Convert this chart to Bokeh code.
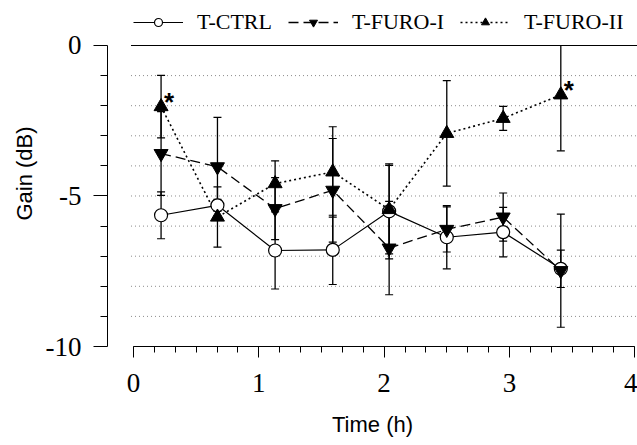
import numpy as np
from bokeh.plotting import figure
from bokeh.models import (ColumnDataSource, FixedTicker, LinearAxis, Legend, LegendItem, Range1d)
from bokeh.core.properties import value
from bokeh.embed import file_html
from bokeh.resources import INLINE

# ---- data ----
time_h = [0.22, 0.67, 1.13, 1.59, 2.04, 2.50, 2.95, 3.41]
ctrl_mean = [-5.64, -5.31, -6.81, -6.79, -5.51, -6.37, -6.20, -7.42]
ctrl_err = [0.78, 0.20, 1.28, 1.15, 1.58, 1.05, 0.82, 0.62]
furo1_mean = [-3.59, -4.03, -5.42, -4.81, -6.73, -6.11, -5.70, -7.48]
furo1_err = [1.39, 1.64, 1.03, 1.72, 1.55, 0.75, 0.80, 1.88]
furo2_mean = [-2.03, -5.70, -4.59, -4.20, -5.45, -2.92, -2.42, -1.64]
furo2_err = [1.04, 1.00, 0.76, 1.50, 1.47, 1.75, 0.40, 1.86]
series_names = ["T-CTRL", "T-FURO-I", "T-FURO-II"]
signif_index = [0, 7]          # FURO-II points marked with *
y_major = [0, -5, -10]
y_major_labels = {0: "0", -5: "-5", -10: "-10"}
y_minor = [-1, -2, -3, -4, -6, -7, -8, -9]
x_major = [0, 1, 2, 3, 4]
x_minor_per_h = 6
grid_levels = [-1, -2, -3, -4, -5, -6, -7, -8, -9]

SERIF = "Liberation Serif"
SANS = "Liberation Sans"

W, H = 637, 445
x_start, x_end = -0.2075, 4.022
y_low, y_high = -10, 1.495   # extra room above 0 dB holds the legend

p = figure(width=W, height=H, output_backend="svg", toolbar_location=None,
           x_range=Range1d(x_start, x_end), y_range=Range1d(y_low, y_high),
           x_axis_type=None, y_axis_type=None,
           min_border_left=107, min_border_right=0, min_border_top=0, min_border_bottom=99)
p.outline_line_color = None
p.background_fill_color = "white"
p.border_fill_color = "white"
p.xgrid.visible = False
p.ygrid.visible = False

# dotted horizontal grid
n = len(grid_levels)
p.segment(x0=[-0.02] * n, y0=grid_levels, x1=[x_end] * n, y1=grid_levels,
          line_color="#8a8a8a", line_width=1, line_dash="1 3")
# solid reference line at 0 dB
p.segment(x0=[-0.02], y0=[0], x1=[x_end], y1=[0], line_color="black", line_width=1.1)

# y axis (left), spanning -10..0
yax = LinearAxis(ticker=FixedTicker(ticks=y_major, minor_ticks=y_minor), bounds=(-10, 0))
yax.major_label_overrides = y_major_labels
yax.axis_line_color = "black"
yax.major_tick_line_color = "black"
yax.minor_tick_line_color = "black"
yax.major_tick_out = 14
yax.major_tick_in = 0
yax.minor_tick_out = 7
yax.minor_tick_in = 0
yax.major_label_text_font = SERIF
yax.major_label_text_font_size = "27px"
yax.major_label_text_color = "black"
yax.major_label_standoff = 12
yax.axis_label = "Gain (dB)"
yax.axis_label_text_font = SANS
yax.axis_label_text_font_size = "22px"
yax.axis_label_text_font_style = "normal"
yax.axis_label_text_color = "black"
yax.axis_label_standoff = 6
p.add_layout(yax, "left")

# x axis (below), only spanning 0..4
xmin = [i / x_minor_per_h for i in range(0, 4 * x_minor_per_h + 1)]
xax = LinearAxis(ticker=FixedTicker(ticks=x_major, minor_ticks=xmin), bounds=(0, 4))
xax.axis_line_color = "black"
xax.major_tick_line_color = "black"
xax.minor_tick_line_color = "black"
xax.major_tick_out = 11
xax.major_tick_in = 0
xax.minor_tick_out = 6
xax.minor_tick_in = 0
xax.major_label_text_font = SERIF
xax.major_label_text_font_size = "27px"
xax.major_label_text_color = "black"
xax.major_label_standoff = 16
xax.axis_label = "Time (h)"
xax.axis_label_text_font = SANS
xax.axis_label_text_font_size = "22px"
xax.axis_label_text_font_style = "normal"
xax.axis_label_text_color = "black"
xax.axis_label_standoff = 17
p.add_layout(xax, "below")

means = [ctrl_mean, furo1_mean, furo2_mean]
errs = [ctrl_err, furo1_err, furo2_err]

# error bars (clipped at the 0 dB top of the axis)
for m, e in zip(means, errs):
    lo = [a - b for a, b in zip(m, e)]
    hi = [min(a + b, 0) for a, b in zip(m, e)]
    cap = [h for h, a, b in zip(hi, m, e) if a + b <= 0]
    capx = [t for t, a, b in zip(time_h, m, e) if a + b <= 0]
    src = ColumnDataSource(dict(x=time_h, lo=lo, hi=hi))
    p.segment(x0="x", y0="lo", x1="x", y1="hi", source=src, line_color="black", line_width=1.3)
    p.scatter(x="x", y="lo", source=src, marker="dash", size=8, line_color="black", line_width=1.2)
    p.scatter(x=capx, y=cap, marker="dash", size=8, line_color="black", line_width=1.2)

# lines
src_c = ColumnDataSource(dict(x=time_h, y=ctrl_mean))
src_1 = ColumnDataSource(dict(x=time_h, y=furo1_mean))
src_2 = ColumnDataSource(dict(x=time_h, y=furo2_mean))
l_c = p.line("x", "y", source=src_c, line_color="black", line_width=1.2)
l_1 = p.line("x", "y", source=src_1, line_color="black", line_width=1.3, line_dash="10 5")
l_2 = p.line("x", "y", source=src_2, line_color="black", line_width=1.6, line_dash="2 3")

# markers
m_c = p.scatter("x", "y", source=src_c, marker="circle", size=13, fill_color="white",
                line_color="black", line_width=1.2)
m_1 = p.scatter("x", "y", source=src_1, marker="inverted_triangle", size=14, fill_color="black",
                line_color="black")
m_2 = p.scatter("x", "y", source=src_2, marker="triangle", size=14, fill_color="black",
                line_color="black")

# significance asterisks
sx = [time_h[i] for i in signif_index]
sy = [furo2_mean[i] for i in signif_index]
p.text(x=sx, y=sy, text=["*"] * len(sx), text_font=value(SANS), text_font_size="26px",
       text_font_style="bold", text_align="left", text_baseline="middle",
       x_offset=3, y_offset=-5, text_color="black")

legend = Legend(items=[
    LegendItem(label=series_names[0], renderers=[l_c, m_c]),
    LegendItem(label=series_names[1], renderers=[l_1, m_1]),
    LegendItem(label=series_names[2], renderers=[l_2, m_2]),
], orientation="horizontal", location=(26, 311))
legend.glyph_width = 50
legend.glyph_height = 20
legend.label_standoff = 14
legend.spacing = 16
legend.padding = 0
legend.margin = 0
legend.border_line_color = None
legend.background_fill_alpha = 0
legend.label_text_font = SERIF
legend.label_text_font_size = "22px"
legend.label_text_color = "black"
p.add_layout(legend, "center")

open("out.html", "w").write(file_html(p, INLINE))
